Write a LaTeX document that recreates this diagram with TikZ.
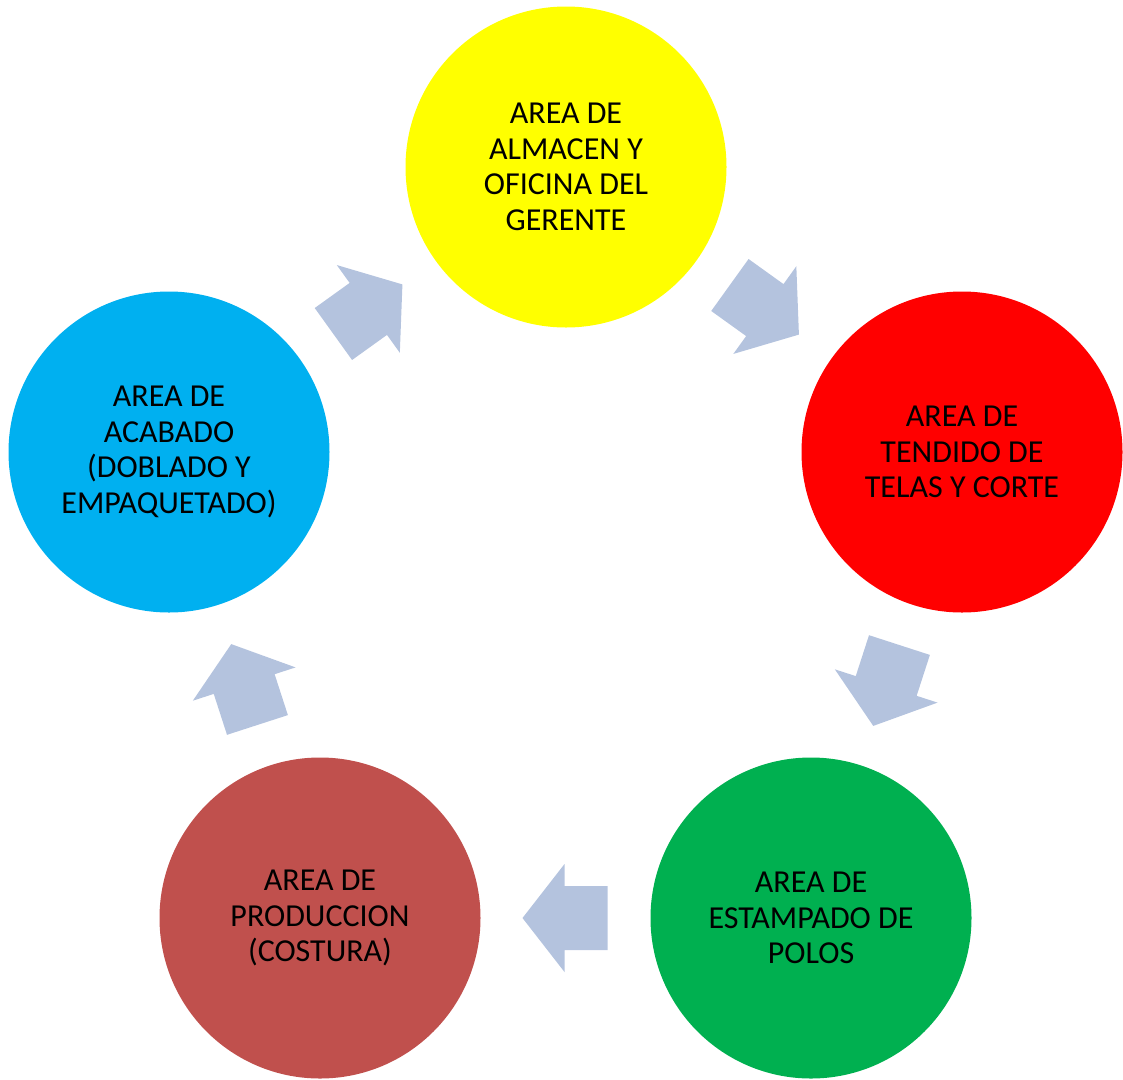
\documentclass[tikz,border=0pt]{standalone}
\usepackage{fontspec}
\setmainfont{Carlito}
\usetikzlibrary{calc}
\definecolor{cyel}{HTML}{FFFF00}
\definecolor{cred}{HTML}{FF0000}
\definecolor{cgrn}{HTML}{00B050}
\definecolor{cbrn}{HTML}{C0504D}
\definecolor{ccya}{HTML}{00B0F0}
\definecolor{carr}{HTML}{B4C3DE}
\tikzset{
  area/.style={circle,minimum size=321pt,inner sep=0pt,align=center,
    font=\fontsize{32}{35.5}\selectfont,text=black},
  arr/.style={fill=carr,draw=none}
}
\newcommand\cycarrow[2]{%
  \fill[arr,shift={(#1)},rotate=#2] (-42,32) -- (1,32) -- (1,54) -- (43,0) -- (1,-54) -- (1,-32) -- (-42,-32) -- cycle;}
\begin{document}
\begin{tikzpicture}[x=1pt,y=1pt]
\useasboundingbox (0,0) rectangle (1123,-1079);
\node[area,fill=cyel] (y) at (566,-167) {AREA DE\\ALMACEN Y\\OFICINA DEL\\GERENTE};
\node[area,fill=cred] (r) at (962,-452) {AREA DE\\TENDIDO DE\\TELAS Y CORTE};
\node[area,fill=cgrn] (g) at (811,-918) {AREA DE\\ESTAMPADO DE\\POLOS};
\node[area,fill=cbrn] (b) at (320,-918) {AREA DE\\PRODUCCION\\(COSTURA)};
\node[area,fill=ccya] (c) at (169,-452) {AREA DE\\ACABADO\\(DOBLADO Y\\EMPAQUETADO)};
\coordinate (m1) at ($(y)!0.5!(r)$);
\coordinate (m2) at ($(r)!0.5!(g)$);
\coordinate (m3) at ($(g)!0.5!(b)$);
\coordinate (m4) at ($(b)!0.5!(c)$);
\coordinate (m5) at ($(c)!0.5!(y)$);
\cycarrow{m1}{-35.7}
\cycarrow{m2}{-107.95}
\cycarrow{m3}{180}
\cycarrow{m4}{107.95}
\cycarrow{m5}{35.7}
\end{tikzpicture}
\end{document}
